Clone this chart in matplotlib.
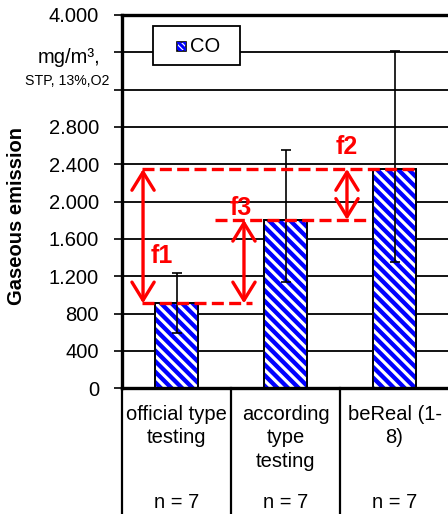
import numpy as np
import matplotlib
matplotlib.use('Agg')
import matplotlib.pyplot as plt
import matplotlib.patches as mpatches
from matplotlib.collections import LineCollection
from matplotlib.transforms import blended_transform_factory, IdentityTransform

plt.rcParams['font.family'] = ['Liberation Sans', 'DejaVu Sans']

# Mean CO emission per test procedure, with spread of the single runs
categories = ['official type\ntesting', 'according\ntype\ntesting', 'beReal (1-\n8)']
n_runs = [7, 7, 7]
co_mean = [910, 1805, 2350]
co_err_minus = [315, 668, 994]
co_err_plus = [321, 749, 1267]

y_ticks = [0, 400, 800, 1200, 1600, 2000, 2400, 2800, 3200, 3600, 4000]
y_tick_labels = ['0', '400', '800', '1.200', '1.600', '2.000', '2.400', '2.800', '', '', '4.000']

FS = 14.5
RED = '#FF0000'
BLUE = '#0000FF'

W, H = 448, 514
fig = plt.figure(figsize=(W / 100, H / 100), dpi=100)
ax_left, ax_right, ax_top, ax_bottom = 122, 449, 15, 388.3
ax = fig.add_axes([ax_left / W, (H - ax_bottom) / H,
                   (ax_right - ax_left) / W, (ax_bottom - ax_top) / H])


def add_stripes(ax, patch, spacing=10.6, width=3.1):
    """Wide downward diagonal blue stripes, clipped to a patch (pixel space)."""
    segs = [[(c, -10), (c - H - 20, H + 10)] for c in np.arange(0, W + H + 40, spacing)]
    lc = LineCollection(segs, colors=BLUE, linewidths=width, transform=IdentityTransform(),
                        zorder=patch.get_zorder() + 0.5)
    ax.add_collection(lc, autolim=False)
    lc.set_clip_path(patch)


x = list(range(len(categories)))

bars = ax.bar(x, co_mean, width=0.4, color='white', edgecolor='black', linewidth=1.3, zorder=2)
for bar in bars:
    add_stripes(ax, bar)
ax.bar(x, co_mean, width=0.4, fill=False, edgecolor='black', linewidth=1.3, zorder=3)
ax.errorbar(x, co_mean, yerr=[co_err_minus, co_err_plus], fmt='none',
            ecolor='black', elinewidth=1.2, capsize=3.3, capthick=1.2, zorder=4)

ax.set_xlim(-0.5, len(categories) - 0.5)
ax.set_ylim(0, 4000)
ax.set_yticks(y_ticks)
ax.set_yticklabels(y_tick_labels, fontsize=FS)
ax.set_xticks([])
ax.tick_params(axis='y', direction='out', length=5.5, width=1.2, pad=11)

ax.yaxis.grid(True, color='black', linewidth=1.3)
ax.set_axisbelow(True)
for side in ['left', 'top', 'bottom']:
    ax.spines[side].set_linewidth(2.4)
ax.spines['right'].set_visible(False)

# unit text sits in the tick label column
yl = blended_transform_factory(ax.transAxes, ax.transData)
ax.text(-0.067, 3545, 'mg/m³,', transform=yl, ha='right', va='center', fontsize=FS)
ax.text(-0.04, 3290, 'STP, 13%,O2', transform=yl, ha='right', va='center', fontsize=10.2)

fig.text(17 / W, 1 - 216 / H, 'Gaseous emission', rotation=90, ha='center', va='center',
         fontsize=FS, fontweight='bold')

# category table below the axis
trans = blended_transform_factory(ax.transData, ax.transAxes)
for b in [-0.5, 0.5, 1.5]:
    ax.plot([b, b], [0, -0.4], color='black', linewidth=1.6, transform=trans, clip_on=False)
for xi, cat, n in zip(x, categories, n_runs):
    ax.text(xi, -0.044, cat, transform=trans, ha='center', va='top', fontsize=FS,
            linespacing=1.3)
    ax.text(xi, -0.307, f'n = {n}', transform=trans, ha='center', va='center', fontsize=FS)

# legend box
def px_to_axes(px, py):
    return ((px - ax_left) / (ax_right - ax_left), (ax_bottom - py) / (ax_bottom - ax_top))

bx0, by0 = px_to_axes(153, 65)
bx1, by1 = px_to_axes(240, 26)
ax.add_patch(mpatches.Rectangle((bx0, by0), bx1 - bx0, by1 - by0, transform=ax.transAxes,
                                facecolor='white', edgecolor='black', linewidth=1.3, zorder=6))
hx0, hy0 = px_to_axes(177, 51)
hx1, hy1 = px_to_axes(186, 42)
handle = mpatches.Rectangle((hx0, hy0), hx1 - hx0, hy1 - hy0, transform=ax.transAxes,
                            facecolor='white', edgecolor='black', linewidth=1.2, zorder=7)
ax.add_patch(handle)
add_stripes(ax, handle, spacing=6, width=2.2)
tx, ty = px_to_axes(190, 47)
ax.text(tx, ty, 'CO', transform=ax.transAxes, ha='left', va='center', fontsize=FS, zorder=8)

# factor annotations between the bar levels
dash = (0, (3.6, 1.6))
low, mid, high = co_mean
ax.plot([-0.316, 2.19], [high, high], color=RED, linewidth=2.4, linestyle=dash, zorder=5)
ax.plot([-0.316, 0.693], [low, low], color=RED, linewidth=2.4, linestyle=dash, zorder=5)
ax.plot([0.353, 1.748], [mid, mid], color=RED, linewidth=2.4, linestyle=dash, zorder=5)

arrow_style = '<->,head_length=0.65,head_width=0.4'
for ax_x, y0, y1 in [(-0.307, low, high), (0.619, low, mid), (1.564, mid, high)]:
    ax.add_patch(mpatches.FancyArrowPatch((ax_x, y0), (ax_x, y1), arrowstyle=arrow_style,
                                          mutation_scale=20, color=RED, linewidth=2.4,
                                          shrinkA=0, shrinkB=0, zorder=5))

for label, lx, ly in [('f1', -0.133, 1418), ('f3', 0.592, 1932), ('f2', 1.564, 2589)]:
    ax.text(lx, ly, label, ha='center', va='center', fontsize=18, fontweight='bold',
            color=RED, zorder=6)

fig.savefig('out.png', dpi=100)
